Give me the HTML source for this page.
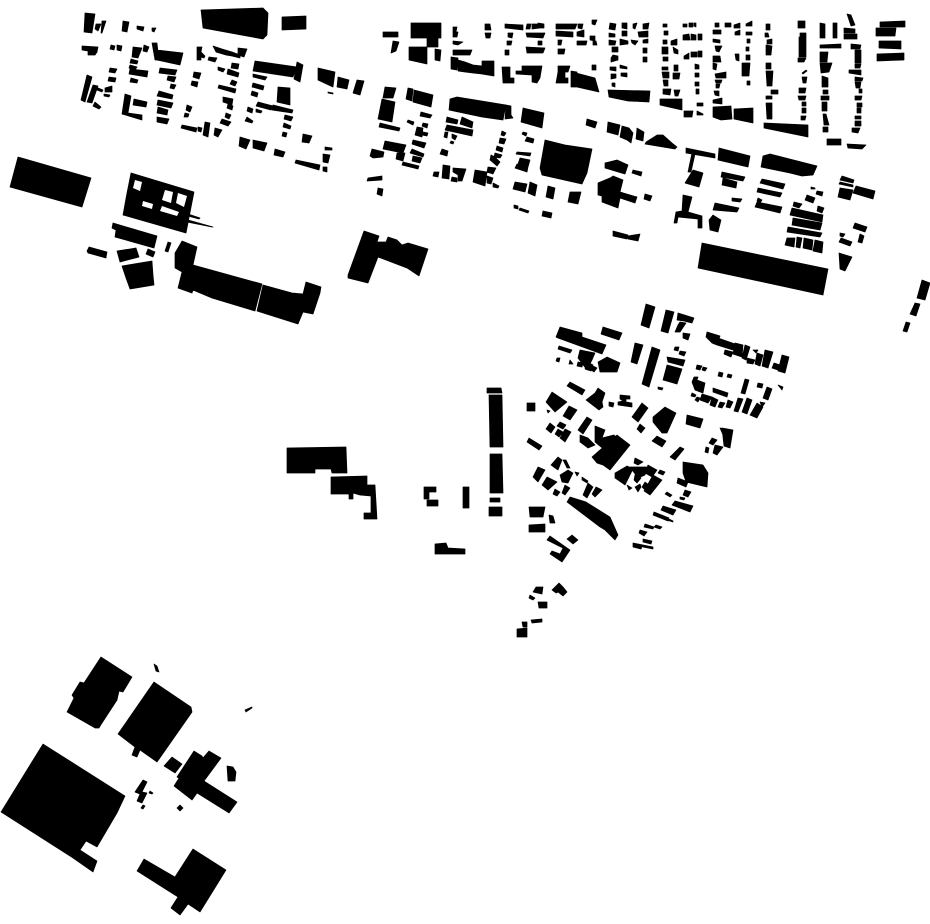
<!DOCTYPE html>
<html><head><meta charset="utf-8"><style>html,body{margin:0;padding:0;background:#fff}svg{display:block}</style></head><body>
<svg xmlns="http://www.w3.org/2000/svg" width="930" height="924" viewBox="0 0 930 924">
<path fill="#000" stroke="#000" stroke-width=".7" stroke-linejoin="round" d="
M85 13 95 14 92 33 84 32zM96 24 101 24 98 31 95 29zM102 21 106 21 102 33 101 33zM123 21 129 22 127 32 122 31zM137 26 144 27 143 31 137 29zM152 28 156 28 154 32 152 31z
M201 10 263 8 268 13 267 35 263 39 203 28zM282 17 306 16 306 29 282 30z
M82 46 98 47 97 52 95 55 88 55 88 51 82 50zM111 45 115 46 114 50 110 49zM117 45 122 46 121 51 117 50zM133 47 142 48 138 58 132 57zM144 45 149 47 147 52 143 51z
M157 50 183 53 180 65 157 60zM152 43 157 43 159 60 155 60zM131 59 138 61 137 64 130 63zM130 65 137 67 135 70 129 68zM130 69 148 71 147 77 129 74zM110 68 117 69 115 73 109 72zM109 77 116 78 115 82 108 81zM131 78 138 80 137 83 130 82z
M87 75 92 77 85 102 81 100zM93 85 98 86 92 103 87 102zM98 88 103 90 102 92 97 90zM105 88 112 86 112 92 105 92zM104 94 110 95 109 97 104 96zM95 102 101 107 99 109 93 106z
M125 94 131 96 128 113 142 115 142 120 122 114zM134 99 147 102 146 107 133 105zM159 91 173 95 172 99 157 96zM158 100 173 103 171 108 157 105zM158 107 168 110 167 115 157 113zM157 117 169 119 167 124 157 122z
M160 68 177 70 175 75 159 73zM168 76 176 77 174 82 167 80zM171 84 176 85 174 89 170 88zM194 72 201 73 199 79 193 77zM192 81 198 82 197 87 191 85zM187 105 192 107 190 112 186 110zM185 113 189 114 188 117 184 117zM182 125 197 128 196 132 181 128zM198 127 202 128 201 132 198 131zM205 122 210 123 208 137 203 135zM215 128 222 130 218 137 214 135z
M197 47 202 47 201 52 205 56 204 58 201 57 201 60 197 60zM209 57 217 58 215 62 208 60zM213 46 222 49 232 52 240 55 240 58 232 56 226 55 216 52zM238 48 247 49 244 57 238 55zM218 67 225 69 223 72 218 70zM232 63 239 64 238 69 231 68zM228 69 239 73 238 77 227 74zM232 80 237 82 235 86 230 84zM219 85 236 89 235 93 218 88zM223 97 233 99 232 105 223 102zM228 104 233 106 232 110 227 108zM226 113 231 115 229 119 225 117zM222 119 231 122 228 126 220 123z
M255 61 297 67 293 77 253 71zM297 62 303 65 300 82 294 79zM318 68 335 72 333 87 318 80zM338 77 349 80 347 89 337 87zM357 80 364 81 360 95 353 93zM328 92 333 93 333 94 328 93zM253 74 267 77 265 80 253 77zM253 83 264 86 263 90 252 87zM252 91 258 93 257 97 251 95zM278 87 290 88 290 105 277 102zM258 102 273 106 271 110 256 106zM273 105 293 110 292 113 272 110zM248 107 253 109 252 113 247 111zM256 109 262 111 261 113 256 112zM247 117 253 121 252 123 245 121zM285 115 293 117 291 121 284 119zM284 123 291 126 290 129 283 127zM283 132 287 133 286 137 282 136zM303 134 312 136 309 143 302 142zM240 137 250 140 246 149 239 146zM253 140 267 143 264 151 253 148zM275 149 285 152 283 157 274 155zM296 160 320 165 319 170 295 163zM325 147 332 148 332 150 325 150zM323 154 330 155 328 163 323 162zM323 167 327 167 327 172 323 171z
M383 32 398 32 398 37 383 37zM411 23 441 23 441 38 411 38zM427 38 438 38 438 47 427 47zM393 41 399 42 396 51 391 53zM409 47 427 47 427 64 409 60zM435 49 441 50 440 61 435 60zM453 27 457 27 456 32 453 32zM453 32 458 32 457 37 453 37zM453 41 463 42 458 45 453 44zM453 50 472 50 470 55 453 55zM451 57 458 58 457 70 451 69zM458 60 465 62 465 72 458 71zM465 62 473 65 473 73 465 72zM473 65 482 66 482 74 473 73zM482 61 494 61 494 76 482 74z
M485 24 490 24 491 30 485 30zM485 33 491 33 490 38 486 38zM505 24 523 25 523 30 505 28zM527 24 531 24 530 29 526 29zM532 24 540 24 540 28 532 29zM538 23 544 24 544 28 538 28zM508 33 513 33 512 38 508 37zM526 33 545 33 543 38 527 37zM507 41 512 41 511 45 507 45zM538 41 542 41 542 45 538 45zM505 50 509 50 509 55 505 55zM526 47 545 48 543 53 527 53zM502 67 510 67 510 78 514 78 514 83 503 83zM516 71 522 71 522 66 542 66 540 78 537 83 532 82 532 75 516 74z
M556 24 577 24 575 29 556 29zM578 24 583 24 582 29 578 28zM592 20 597 20 595 25 592 24zM556 31 573 32 573 37 556 36zM577 32 584 30 584 37 577 36zM558 40 562 40 561 45 558 45zM577 41 587 41 586 45 577 45zM590 36 595 36 595 41 590 40zM593 41 596 41 597 45 593 45zM558 49 565 49 564 54 558 54zM558 66 570 66 568 72 565 72 565 78 568 78 568 83 556 83 558 72zM571 71 577 72 577 87 571 87zM576 73 595 78 599 92 577 87zM592 65 596 65 596 70 592 70z
M610 23 616 24 615 30 609 29zM622 23 627 23 627 29 622 28zM633 24 637 23 635 29 633 28zM643 24 649 23 648 29 643 29zM609 33 615 34 615 37 609 37zM622 31 627 31 627 36 622 36zM638 32 648 31 648 37 639 37zM609 40 616 41 615 45 609 45zM620 39 628 41 628 44 620 45zM631 40 638 41 635 45 632 43zM643 40 648 39 648 43 643 43zM612 47 618 47 618 52 612 52zM643 48 647 48 647 53 643 53zM643 57 647 57 647 62 643 62zM613 55 618 56 618 60 611 62 611 58zM610 67 616 67 616 71 610 70zM620 65 627 67 627 69 620 68zM621 73 627 73 627 77 621 76zM611 74 616 74 616 78 611 79zM612 83 615 83 615 87 612 86zM608 90 650 91 649 102 628 101 609 97z
M663 24 667 24 667 27 663 27zM664 31 668 31 668 35 664 35zM663 40 667 40 667 44 663 44zM671 41 677 39 677 45 671 45zM662 47 668 47 668 54 662 54zM673 47 678 50 678 54 674 53zM663 57 668 57 668 61 663 61zM683 24 687 24 687 27 683 27zM689 23 693 23 693 27 689 27zM694 23 696 23 696 27 694 26zM683 35 689 34 690 40 683 40zM691 34 696 35 696 40 691 40zM698 34 702 34 702 40 698 40zM684 56 689 53 689 59 684 59zM691 52 697 52 697 57 691 57zM698 51 702 51 702 57 698 57zM662 67 668 67 668 70 662 70zM662 72 669 72 669 78 663 78zM674 65 678 65 678 71 674 71zM673 73 680 73 679 79 673 79zM663 80 668 80 668 86 664 86zM663 89 671 89 670 95 663 94zM674 90 680 90 678 96 675 96zM695 64 699 65 699 69 695 69zM695 73 699 73 699 77 695 77zM695 82 699 82 699 86 695 86zM696 89 699 89 699 94 696 94zM660 99 682 99 682 110 660 105zM684 111 693 111 692 117 684 117zM697 103 703 103 703 106 697 106zM697 111 703 114 703 115 697 115z
M715 23 719 23 719 27 715 27zM713 30 721 30 721 34 713 34zM725 23 731 23 731 27 725 27zM734 25 740 23 740 28 734 28zM735 32 740 30 740 35 735 35zM746 24 752 21 752 26 746 26zM746 32 752 32 752 35 746 35zM747 39 750 39 750 43 747 43zM746 47 749 47 749 51 746 51zM746 55 750 55 750 60 746 60zM742 63 750 63 749 76 742 76zM747 81 750 81 750 85 747 85zM735 54 739 54 739 61 736 60zM713 39 720 40 720 43 713 42zM715 46 722 46 719 52 716 51zM713 56 720 56 721 62 713 62zM713 63 717 64 716 70 713 69zM715 74 726 72 726 78 716 78zM715 80 722 80 721 83 716 83zM716 84 720 84 719 88 716 88zM714 91 719 91 719 96 715 95zM713 100 722 98 722 104 713 103zM713 107 731 106 732 119 721 120 713 117zM734 109 753 108 753 123 734 119z
M766 24 770 24 770 30 766 30zM765 33 768 33 769 37 765 37zM767 40 772 39 772 44 767 44zM766 45 772 46 771 55 766 55zM766 63 771 63 771 69 766 69zM766 71 773 71 772 86 767 86zM771 90 778 90 778 94 771 94zM766 96 772 96 772 99 766 99zM766 103 772 103 772 119 767 119zM764 123 808 125 808 137 764 128zM798 21 805 21 805 28 798 28zM800 33 806 33 806 37 800 37zM799 37 806 37 806 57 799 57zM798 58 806 58 804 62 798 62zM802 73 806 70 807 71 803 74zM802 77 807 77 806 83 803 83zM799 88 806 88 805 93 799 93zM798 96 806 96 805 100 799 100zM802 102 806 102 806 106 802 106zM802 108 806 108 806 113 802 113zM801 116 806 116 805 120 801 120z
M820 23 825 24 825 38 820 38zM833 23 837 23 837 38 833 38zM820 45 841 44 841 48 820 48zM844 28 855 29 855 33 844 33zM844 34 857 34 857 39 844 39zM847 14 851 15 855 25 851 26zM851 44 861 45 860 49 851 49zM855 50 861 50 861 63 855 63zM855 64 861 64 860 68 855 68zM849 70 861 70 861 75 849 73zM855 77 863 78 862 81 855 81zM855 82 861 82 860 88 856 88zM859 89 862 89 862 93 859 93zM855 96 862 96 861 100 855 100zM857 103 862 103 862 107 857 107zM857 108 861 108 861 113 857 113zM855 116 861 116 861 119 855 119zM855 121 861 121 861 126 855 126zM852 128 860 128 858 133 852 132zM820 52 828 52 827 62 820 62zM820 63 832 63 829 72 821 73zM822 76 828 78 828 87 822 87zM823 90 828 90 828 94 823 94zM821 96 829 96 829 100 821 100zM822 102 827 102 827 111 822 111zM823 114 826 114 829 125 824 125zM823 127 828 127 828 132 823 132zM827 139 841 139 841 145 827 145zM847 144 866 145 862 149 848 148z
M880 22 905 21 905 27 880 27zM876 28 896 28 895 36 876 36zM879 41 901 41 901 49 879 48zM877 54 904 53 904 60 877 61z
M385 87 396 88 393 98 383 98zM382 99 395 102 392 122 378 119zM408 88 413 89 412 101 406 99zM414 90 433 95 431 107 413 102zM421 112 432 115 430 118 420 116zM408 120 414 122 413 125 407 122zM380 123 400 128 399 131 379 127zM423 123 428 124 427 128 422 126zM417 127 423 128 422 137 415 135zM423 132 428 133 427 136 422 135zM385 141 406 145 403 153 383 149zM397 153 405 153 403 161 396 159zM413 140 426 143 424 148 412 144zM412 149 424 154 423 157 410 153zM413 156 422 158 420 163 412 161zM403 162 419 166 418 169 402 165zM372 149 384 152 383 157 373 158 370 156zM368 178 382 176 382 180 367 181zM378 188 383 189 382 196 377 194z
M450 99 457 97 506 105 503 120 482 117 449 110zM506 105 511 106 511 115 513 118 505 119zM447 117 458 120 457 124 446 122zM462 117 473 122 472 128 460 124zM447 125 473 130 472 136 445 130zM445 132 448 132 447 138 444 137zM452 134 457 136 455 140 452 138zM451 141 454 142 453 144 450 143zM442 149 448 151 447 156 440 154zM434 172 439 172 438 177 433 176zM443 165 450 166 449 179 442 178zM453 168 466 169 462 181 458 181 458 175 453 172zM452 177 457 178 457 182 451 181zM475 170 487 172 485 186 473 182zM487 176 493 178 491 184 487 183zM488 167 496 168 493 174 487 172zM493 183 499 186 498 188 493 187zM491 155 495 157 500 162 497 166 490 160zM497 146 503 148 502 152 496 150zM500 138 506 139 504 144 499 143zM502 131 506 133 504 136 501 135zM495 153 502 155 500 158 494 157z
M523 132 527 133 526 136 522 134zM527 137 534 139 533 143 525 141zM517 152 531 153 530 156 516 154zM520 158 530 160 528 167 518 164zM517 164 528 167 527 172 515 168zM515 182 527 184 525 192 513 189zM530 182 537 185 535 196 528 193zM548 186 555 188 553 199 546 197zM570 192 581 192 578 204 568 202zM514 205 518 206 518 209 514 208zM520 208 529 211 528 213 519 210zM543 211 552 213 551 218 542 216zM545 140 565 145 592 149 587 173 582 184 542 175 540 168zM523 108 544 113 542 128 521 122zM587 119 597 122 595 128 586 125zM608 122 620 125 618 135 607 132zM622 126 629 128 633 133 631 143 627 140 620 137zM637 128 644 132 643 141 636 139zM646 142 657 135 663 135 672 143 677 147 675 149 645 144z
M605 163 617 160 628 165 625 174 605 168zM633 170 642 172 641 176 632 173zM598 183 610 178 613 176 623 180 620 192 637 197 635 203 620 198 618 208 602 202 602 196 598 195zM645 194 652 196 650 201 644 199zM613 231 628 235 627 239 613 236zM628 236 640 234 638 241 628 239z
M686 148 715 154 715 158 686 153zM692 153 695 154 691 172 688 172zM693 170 703 173 699 187 685 183zM719 148 750 156 748 167 718 160zM722 172 745 177 743 181 721 177zM723 178 737 182 736 188 722 185zM763 156 770 154 817 166 813 175 802 176 790 173 761 167zM762 179 785 184 783 189 760 183zM758 188 782 193 780 197 757 192zM758 198 762 200 760 203 757 201zM757 202 782 207 780 213 755 207zM794 202 802 204 799 208 793 206zM807 195 815 198 813 203 805 200zM817 191 823 192 822 196 816 194zM811 187 815 188 815 189 811 189zM818 206 824 208 822 213 817 211zM792 208 823 215 822 222 790 215zM793 218 822 223 820 230 792 225zM788 227 822 233 820 237 787 232zM787 238 795 238 794 247 785 245zM797 237 802 238 800 248 796 247zM804 238 813 240 812 250 803 248zM815 240 823 242 822 253 813 251zM842 176 854 180 853 183 840 180zM840 182 853 185 853 187 839 184zM840 188 853 190 850 200 838 197zM856 186 875 191 873 199 853 193zM855 223 867 227 865 232 853 228zM840 233 845 234 843 237 840 236zM841 238 852 242 850 246 839 242zM860 234 864 236 862 243 858 242zM839 253 852 257 845 271 840 269zM702 243 828 269 823 295 698 268z
M683 195 692 197 688 212 702 216 702 228 698 228 698 219 678 217 677 223 674 223 676 212 682 211zM713 215 721 220 718 232 710 230 709 220zM715 203 739 208 737 212 713 210zM732 198 742 199 740 202 732 201zM922 280 930 283 925 300 917 298zM915 303 920 304 916 316 910 314zM906 322 910 323 907 332 903 331z
M646 304 655 307 649 328 641 325zM666 310 674 312 668 333 661 331zM678 313 694 318 692 323 684 321 677 320zM680 322 686 323 680 332 675 332 678 325zM683 333 690 334 688 340 683 338zM560 327 582 333 582 337 606 345 602 354 558 338 556 337zM603 327 622 333 619 340 601 334zM559 346 572 350 570 353 558 349zM557 358 560 358 559 362 556 361zM570 360 573 364 569 364zM580 350 595 353 592 360 587 370 578 358zM578 362 583 363 582 367 577 366zM587 362 593 365 591 371 585 369zM598 362 607 357 620 363 617 372 600 372zM593 366 597 368 594 372 591 370zM635 343 643 345 637 364 631 362zM652 347 660 350 649 387 642 384zM675 347 679 347 678 351 674 350zM680 351 686 352 684 356 679 354zM667 357 685 360 683 366 668 362zM667 365 682 369 677 384 663 380zM658 387 663 388 662 390 658 389z
M707 332 720 336 717 345 712 343 706 337zM718 338 735 344 733 350 717 345zM725 350 733 352 731 357 724 354zM735 343 743 345 742 357 733 354zM745 345 750 347 746 360 742 358zM747 358 755 360 753 364 747 363zM753 350 758 350 756 353zM757 353 763 355 760 366 755 364zM765 350 773 352 768 368 762 366zM774 363 780 365 778 370 772 368zM782 355 789 357 785 373 778 371zM697 365 702 366 700 370 696 369zM703 367 707 368 705 371 702 370zM719 372 723 373 722 377 718 376zM728 374 732 375 731 378 727 377zM745 379 749 380 745 394 741 393zM758 383 763 384 762 388 757 387zM767 387 772 389 768 400 763 398zM778 385 783 387 782 390zM694 377 698 377 697 380 705 383 703 393 695 390 692 382zM692 393 696 395 695 397 691 396zM697 397 700 398 698 402 695 400zM702 394 712 397 708 403 700 400zM713 388 728 393 727 397 713 392zM712 397 718 400 715 407 710 405zM720 402 725 403 722 408 718 407zM728 400 733 402 730 408 726 407zM738 398 743 399 738 412 734 411zM747 398 752 400 747 414 742 412zM757 403 763 407 757 418 750 415zM760 402 765 403 762 407z
M570 382 585 390 582 395 567 386zM598 388 605 393 602 402 603 407 599 410 586 400 595 393zM609 402 614 403 613 407 609 406zM620 395 630 396 630 399 626 399 626 402 632 403 632 407 618 405 618 402 623 401 620 399zM527 403 535 403 535 411 527 411zM552 392 567 402 555 412 546 402zM547 410 550 411 548 413zM569 406 577 410 570 420 563 416zM550 423 555 427 551 433 546 429zM560 422 566 425 563 429 557 426zM558 429 563 432 559 437 555 434zM565 429 571 432 565 442 560 438zM529 438 542 446 539 450 527 442zM587 417 592 420 583 434 578 430zM595 426 605 430 602 438 614 435 617 438 607 452 595 442zM580 435 588 438 595 445 588 448 580 442zM642 403 648 408 638 422 632 417zM640 424 645 428 641 433 637 429zM665 407 676 413 667 433 662 433 653 422 653 417zM657 436 666 441 662 447 652 441zM680 447 684 449 675 460 670 457zM687 415 703 419 700 428 686 424zM722 428 733 430 730 448 724 446zM712 438 717 440 713 445 709 443zM715 445 723 447 717 455 713 453zM706 447 709 448 708 453 705 452zM720 428 725 429 723 435z
M592 457 617 435 630 445 610 470 603 465 597 463zM615 473 627 466 633 469 625 485 615 478zM627 485 632 488 629 490zM635 458 643 462 638 465 634 463zM630 467 648 467 645 475 638 478zM648 465 657 470 652 477 645 473zM660 470 665 472 663 475 658 473zM635 475 641 478 637 483 634 480zM635 487 640 484 641 487 638 492zM653 475 662 480 650 495 644 491zM645 482 649 485 645 490 642 487zM551 465 558 457 562 460 558 470 555 468zM563 460 566 460 570 468 567 468zM560 475 568 470 573 473 568 483 562 482zM575 472 579 473 577 476zM582 477 588 481 587 483 582 480zM538 467 545 470 538 482 533 477zM547 477 557 482 548 490 542 485zM555 489 560 492 557 496 553 494zM565 485 570 488 565 495 562 493zM588 483 593 487 587 498 583 495zM596 487 602 490 595 497 592 494zM570 497 586 502 610 517 618 535 615 540 605 530 600 527 567 502zM529 507 545 507 543 517 530 517zM549 515 553 516 555 523 550 523zM529 525 545 524 545 532 529 532zM572 535 578 540 573 544 567 539zM550 536 570 550 562 562 550 554 552 551 560 554 563 548 547 540z
M683 462 703 465 708 473 707 487 686 482 683 473zM678 478 688 482 686 487 677 483zM667 492 672 495 670 497 665 494zM685 490 691 492 688 497 683 495zM680 497 685 498 684 500 680 499zM675 501 693 506 690 512 672 505zM663 506 676 510 673 515 661 510zM654 512 669 518 668 521 653 515zM667 518 673 521 673 522 667 520zM645 524 654 527 653 529 644 527zM656 525 662 527 660 529 654 527zM640 530 647 532 644 536 639 533zM643 539 652 541 651 544 643 542zM633 543 643 545 641 549 633 547zM643 545 653 547 653 549 643 547z
M536 587 543 587 542 594 533 592zM530 595 535 598 533 600 529 598zM538 602 547 602 547 608 539 608zM559 583 563 587 567 592 563 596 558 592 556 593 552 590zM531 620 542 619 542 622 532 623zM522 622 527 622 527 627 523 627zM517 629 527 628 527 637 517 637z
M18 157 91 178 82 207 10 187zM131 173 194 192 186 233 123 215 127 193zM188 214 200 218 199 219 188 216zM188 220 213 227 212 227 187 222zM113 223 157 236 154 248 115 237 116 230 112 228zM89 247 107 252 106 258 88 253 87 251zM117 251 136 248 139 257 120 262zM148 249 155 252 153 257 146 254zM168 242 171 243 168 252 165 251zM122 266 152 261 153 275 154 285 130 289 126 278z
M182 241 197 247 193 265 262 284 255 311 212 298 193 290 192 293 178 288 182 272 175 268 175 253zM263 285 292 293 303 294 306 282 321 287 320 293 313 314 303 312 298 324 257 311zM364 231 379 236 377 242 386 242 388 237 397 240 402 245 408 243 428 249 419 276 407 268 378 257 368 283 348 278 348 275z
M101 657 132 677 123 692 119 691 117 700 102 723 99 728 95 728 67 712 74 698 72 695 80 682 84 683zM154 664 157 666 159 672 156 671zM154 682 191 707 192 712 157 762 140 750 137 757 132 755 135 747 118 734zM245 710 252 707 252 708 246 712zM172 757 182 764 175 773 164 766zM194 751 202 756 203 758 209 751 221 758 204 781 237 802 229 813 197 793 192 800 174 786 179 778 177 777zM227 766 233 767 236 772 235 781 228 781zM43 744 125 796 117 813 97 847 86 841 80 850 97 861 93 872 73 858 1 812zM143 780 147 782 142 792 147 793 142 803 137 801 140 794 135 792zM150 791 153 793 152 794 149 793zM143 805 145 806 143 809 141 808zM180 805 183 808 180 811 177 808zM193 849 226 870 200 912 188 904 180 915 171 908 178 897 137 871 144 859 175 877z
M287 448 346 447 347 473 332 473 331 469 315 469 315 473 287 473zM331 477 367 476 367 485 375 485 377 519 364 519 364 513 371 513 371 496 360 495 353 493 353 499 349 499 349 494 331 494zM424 487 436 487 436 492 429 492 429 499 424 499zM427 500 438 500 438 506 427 506zM463 487 469 487 469 508 463 508zM487 388 501 388 502 393 487 393zM489 395 502 395 503 447 490 447zM490 454 502 454 503 493 490 493zM490 498 500 498 500 502 490 502zM489 507 502 507 502 516 489 516zM435 544 446 543 448 548 465 549 465 554 435 554z
"/>
<path fill="#fff" d="M135 180 142 182 140 191 133 188zM165 190 173 192 171 203 162 200zM178 193 187 196 184 207 176 203zM143 201 153 204 152 209 142 206zM162 206 179 212 177 216 160 211z"/>
</svg>
</body></html>
